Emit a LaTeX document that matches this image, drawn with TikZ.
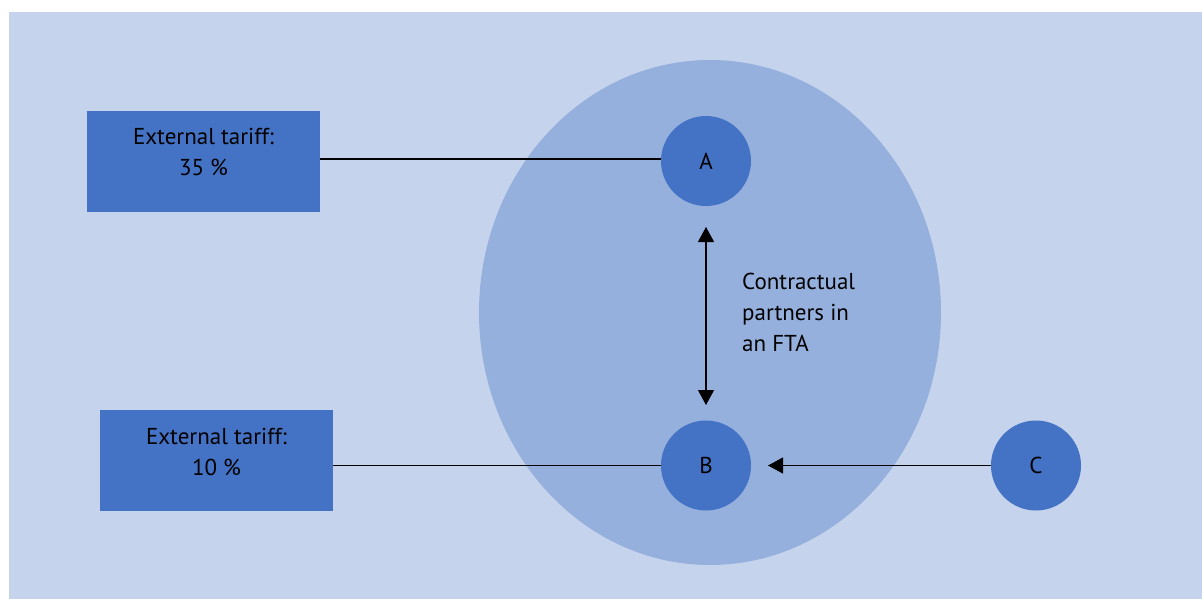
\documentclass[tikz,border=0pt]{standalone}
\usepackage{fontspec}
\setmainfont{PT Sans}
\usetikzlibrary{arrows.meta}
\definecolor{bgblue}{RGB}{197,212,236}
\definecolor{ellblue}{RGB}{149,176,221}
\definecolor{darkblue}{RGB}{68,114,196}
\tikzset{
  tariffbox/.style={draw=none, fill=darkblue, minimum width=233pt, minimum height=101pt, inner sep=0pt},
  country/.style={circle, draw=none, fill=darkblue, minimum size=90pt, inner sep=0pt, font=\fontsize{23}{27}\selectfont},
  boxtext/.style={align=center, font=\fontsize{23}{31}\selectfont, inner sep=0pt},
  link/.style={line width=1.2pt, black},
  arr/.style={line width=1.2pt, black, -{Triangle[length=15pt,width=16pt]}},
  darr/.style={line width=1.2pt, black, {Triangle[length=15pt,width=16pt]}-{Triangle[length=15pt,width=16pt]}},
}
\begin{document}
\begin{tikzpicture}[x=1pt,y=-1pt]
\useasboundingbox (0,0) rectangle (1202,599);
\fill[bgblue] (9,12) rectangle (1202,599);
\fill[ellblue] (710,312.5) ellipse [x radius=231, y radius=252.5];
\node[tariffbox] (box1) at (203.5,161.5) {};
\node[tariffbox] (box2) at (216.5,460.5) {};
\node[boxtext] (t1) at (203.5,151.5) {External tariff:\\35 \%};
\node[boxtext] (t2) at (216.5,451.5) {External tariff:\\10 \%};
\node[country] (A) at (706,161) {A};
\node[country] (B) at (706,465.5) {B};
\node[country] (C) at (1036,465.5) {C};
\coordinate (atop) at (706,227);
\coordinate (bbot) at (706,405);
\coordinate (btip) at (768,465.5);
\draw[link] (box1.east |- 0,159) -- (A.west |- 0,159);
\draw[link] (box2.east |- B.west) -- (B.west);
\draw[darr] (atop) -- (bbot);
\draw[arr] (C.west) -- (btip);
\node[boxtext, align=left, anchor=west] (lab) at (742,312) {Contractual\\partners in\\an FTA};
\end{tikzpicture}
\end{document}
